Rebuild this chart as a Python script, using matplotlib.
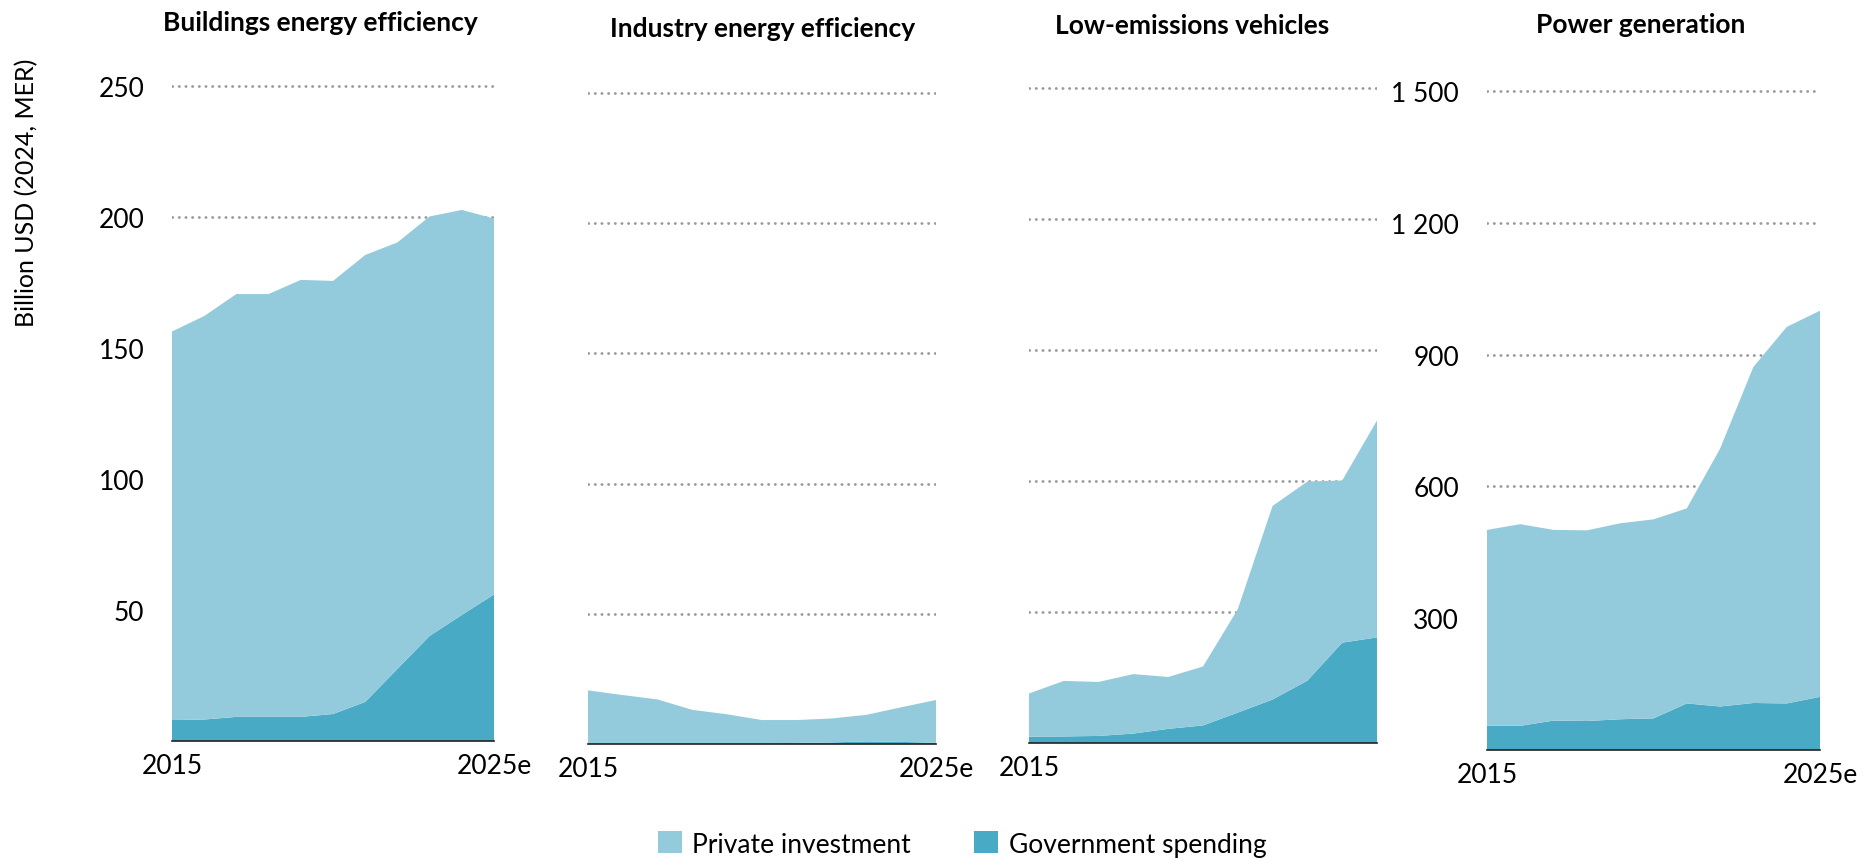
import matplotlib
matplotlib.use('Agg')
import matplotlib.pyplot as plt
from matplotlib.patches import Patch

plt.rcParams['font.family'] = ['Lato', 'DejaVu Sans']

years = list(range(2015, 2026))
xtick_years = [2015, 2025]
xtick_labels = ['2015', '2025e']

titles = ['Buildings energy efficiency', 'Industry energy efficiency',
          'Low-emissions vehicles', 'Power generation']
series_names = ['Private investment', 'Government spending']

buildings_private = [148.3, 154.0, 161.4, 161.4, 166.8, 165.3, 170.6, 162.8, 160.1, 154.6, 143.5]
buildings_gov = [8.0, 8.2, 9.2, 9.2, 9.2, 10.3, 14.9, 27.5, 40.1, 48.1, 55.9]

industry_private = [20.3, 18.5, 16.8, 12.8, 11.1, 8.9, 8.8, 9.2, 10.2, 13.3, 16.4]
industry_gov = [0.3, 0.3, 0.3, 0.3, 0.3, 0.3, 0.4, 0.6, 1.0, 0.8, 0.5]

vehicles_private = [16.5, 21.2, 20.6, 22.7, 19.8, 22.5, 39.5, 73.9, 76.0, 61.9, 82.8]
vehicles_gov = [2.4, 2.5, 2.7, 3.6, 5.4, 6.7, 11.6, 16.6, 23.8, 38.3, 40.3]

power_private = [446, 459, 434, 434, 446, 453, 444, 587, 765, 857, 879]
power_gov = [55, 55, 67, 66, 70, 72, 106, 99, 107, 106, 121]

small_ticks = [50, 100, 150, 200, 250]
small_ticklabels = ['50', '100', '150', '200', '250']
power_ticks = [300, 600, 900, 1200, 1500]
power_ticklabels = ['300', '600', '900', '1 200', '1 500']

PRIV_C = '#94cbdc'
GOV_C = '#49aac5'
GRID_C = '#9a9a9a'

W, H = 1875, 862
fig = plt.figure(figsize=(W / 100, H / 100), dpi=100)


def px_axes(x0, x1, base, top_val_px, top_val, ymax):
    per = (base - top_val_px) / top_val
    h = per * ymax
    return fig.add_axes([x0 / W, (H - base) / H, (x1 - x0) / W, h / H])


panels = [
    dict(priv=buildings_private, gov=buildings_gov, box=(172, 494, 742, 87, 250, 260),
         ticks=small_ticks, labels=small_ticklabels, show_y=True, xt=xtick_years, xl=xtick_labels,
         title_xy=(320, 23)),
    dict(priv=industry_private, gov=industry_gov, box=(588, 936, 745, 94, 250, 260),
         ticks=small_ticks, labels=small_ticklabels, show_y=False, xt=xtick_years, xl=xtick_labels,
         title_xy=(763, 29)),
    dict(priv=vehicles_private, gov=vehicles_gov, box=(1029, 1377, 744, 89, 250, 260),
         ticks=small_ticks, labels=small_ticklabels, show_y=False, xt=xtick_years[:1], xl=xtick_labels[:1],
         title_xy=(1192, 26)),
    dict(priv=power_private, gov=power_gov, box=(1487, 1820, 751, 92, 1500, 1560),
         ticks=power_ticks, labels=power_ticklabels, show_y=True, xt=xtick_years, xl=xtick_labels,
         title_xy=(1641, 25)),
]

for p, title in zip(panels, titles):
    x0, x1, base, tpx, tval, ymax = p['box']
    ax = px_axes(x0, x1, base, tpx, tval, ymax)
    ax.stackplot(years, p['gov'], p['priv'], colors=[GOV_C, PRIV_C], linewidth=0, zorder=2)
    ax.set_xlim(years[0], years[-1])
    ax.set_ylim(0, ymax)
    for t in p['ticks']:
        ax.axhline(t, color=GRID_C, lw=2.0, linestyle=(0, (0.1, 2.3)),
                   dash_capstyle='round', zorder=1)
    ax.set_yticks(p['ticks'])
    if p['show_y']:
        ax.set_yticklabels(p['labels'], fontsize=19)
    else:
        ax.set_yticklabels([])
    ax.tick_params(axis='y', length=0, pad=20)
    ax.set_xticks(p['xt'])
    ax.set_xticklabels(p['xl'], fontsize=19)
    ax.tick_params(axis='x', length=0, pad=9)
    for s in ['left', 'right', 'top']:
        ax.spines[s].set_visible(False)
    ax.spines['bottom'].set_color('#222222')
    ax.spines['bottom'].set_linewidth(1.2)
    ax.spines['bottom'].set_zorder(3)
    ax.patch.set_alpha(0)
    fig.text(p['title_xy'][0] / W, 1 - p['title_xy'][1] / H, title, ha='center', va='center',
             fontsize=19, fontweight='bold')

fig.text(27 / W, 1 - 193 / H, 'Billion USD (2024, MER)', rotation=90, ha='center', va='center',
         fontsize=18)

handles = [Patch(facecolor=PRIV_C, edgecolor='none'), Patch(facecolor=GOV_C, edgecolor='none')]
fig.legend(handles, series_names, loc='center', bbox_to_anchor=(962 / W, 1 - 845 / H), ncol=2,
           frameon=False, fontsize=19, handlelength=0.9, handleheight=0.9, handletextpad=0.4,
           columnspacing=2.4)

fig.savefig('out.png', dpi=100)
